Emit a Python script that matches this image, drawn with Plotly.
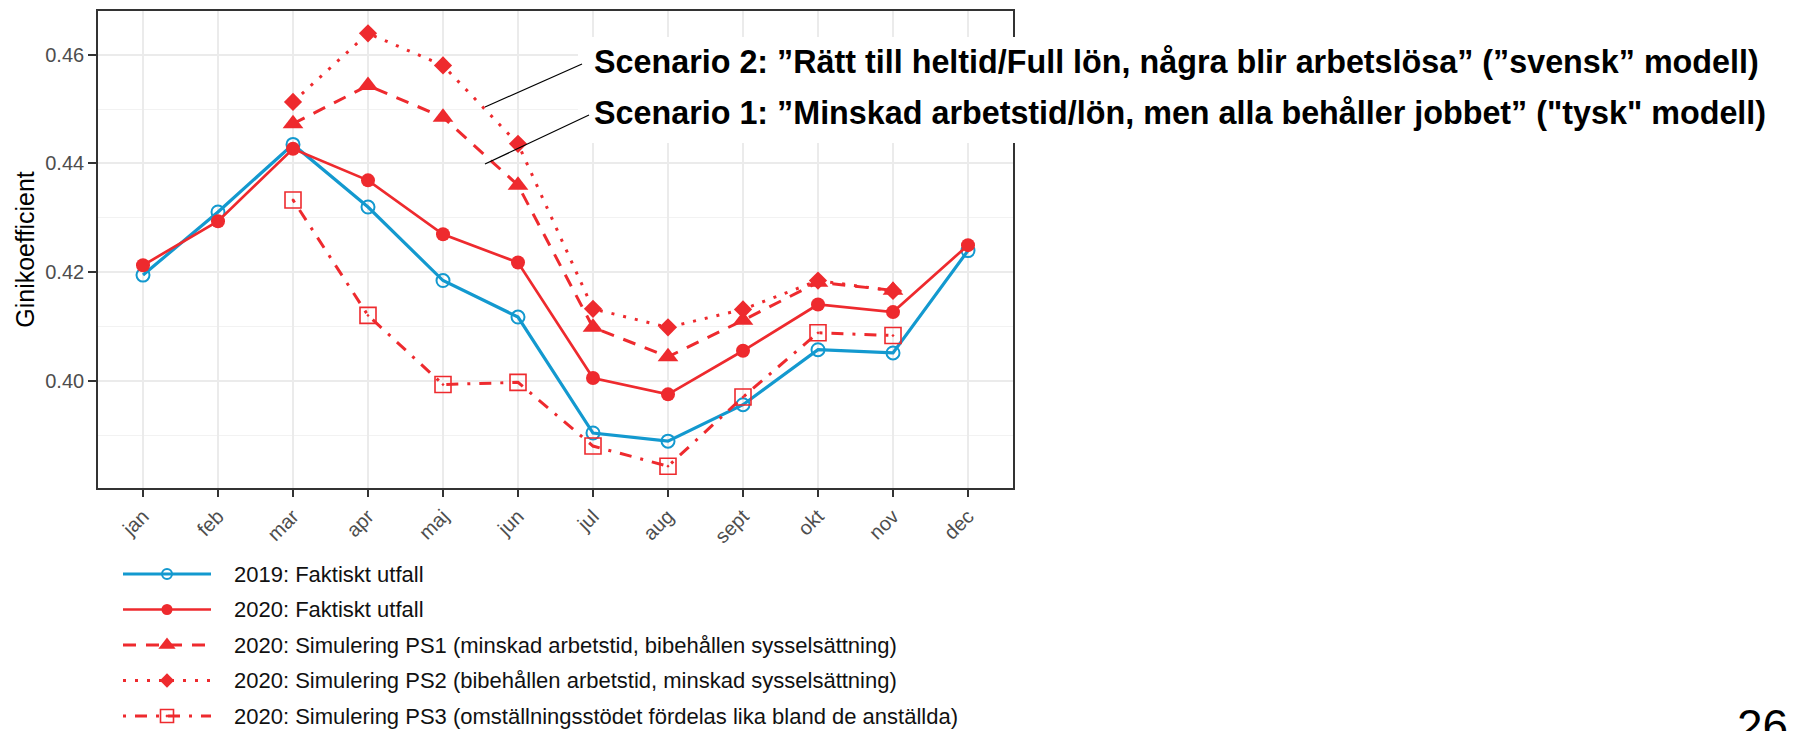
import plotly.graph_objects as go

# data
months = ["jan", "feb", "mar", "apr", "maj", "jun", "jul", "aug", "sept", "okt", "nov", "dec"]
sim_months = months[2:11]

gini_2019 = [0.4195, 0.4311, 0.4435, 0.4320, 0.4185, 0.4118, 0.3905, 0.3890, 0.3957, 0.4058, 0.4052, 0.4240]
gini_2020 = [0.4213, 0.4294, 0.4427, 0.4369, 0.4270, 0.4218, 0.4006, 0.3976, 0.4056, 0.4141, 0.4127, 0.4250]
gini_ps1 = [0.4473, 0.4543, 0.4485, 0.4360, 0.4099, 0.4045, 0.4112, 0.4182, 0.4167]
gini_ps2 = [0.4513, 0.4639, 0.4580, 0.4436, 0.4133, 0.4099, 0.4132, 0.4185, 0.4166]
gini_ps3 = [0.4333, 0.4121, 0.3994, 0.3998, 0.3881, 0.3844, 0.3971, 0.4089, 0.4084]

labels = [
    "2019: Faktiskt utfall",
    "2020: Faktiskt utfall",
    "2020: Simulering PS1 (minskad arbetstid, bibehållen sysselsättning)",
    "2020: Simulering PS2 (bibehållen arbetstid, minskad sysselsättning)",
    "2020: Simulering PS3 (omställningsstödet fördelas lika bland de anställda)",
]
scenario_texts = [
    "Scenario 2: ”Rätt till heltid/Full lön, några blir arbetslösa” (”svensk” modell)",
    "Scenario 1: ”Minskad arbetstid/lön, men alla behåller jobbet” (\"tysk\" modell)",
]

BLUE = "#1399CF"
RED = "#EE2A2E"
W, H = 1799, 731
ML, MR, MT = 98, 786, 11


def px(x):
    return (x - ML) / (W - ML - MR)


def py(y):
    return (H - y) / (H - MT)


styles = [
    dict(x=months, y=gini_2019, color=BLUE, width=3.2, dash="solid",
         symbol="circle-open", size=13, mline=2),
    dict(x=months, y=gini_2020, color=RED, width=2.7, dash="solid",
         symbol="circle", size=14, mline=0),
    dict(x=sim_months, y=gini_ps1, color=RED, width=3, dash="13px,10px",
         symbol="triangle-up", size=18, mline=0),
    dict(x=sim_months, y=gini_ps2, color=RED, width=3, dash="3px,9px",
         symbol="diamond", size=14, mline=0),
    dict(x=sim_months, y=gini_ps3, color=RED, width=3, dash="3px,9px,12px,9px",
         symbol="square-open-dot", size=16, mline=1.6),
]

fig = go.Figure()

for s, name in zip(styles, labels):
    fig.add_trace(go.Scatter(
        x=s["x"], y=s["y"], name=name, mode="lines+markers",
        line=dict(color=s["color"], width=s["width"], dash=s["dash"]),
        marker=dict(symbol=s["symbol"], size=s["size"], color=s["color"],
                    line=dict(color=s["color"], width=s["mline"])),
        showlegend=False,
    ))

# hand-made legend below the plot (long key lines like ggplot)
for i, s in enumerate(styles):
    fig.add_trace(go.Scatter(
        x=[0, 1], y=[-i, -i], xaxis="x2", yaxis="y2", mode="lines",
        line=dict(color=s["color"], width=s["width"], dash=s["dash"]),
        showlegend=False, hoverinfo="skip",
    ))
    fig.add_trace(go.Scatter(
        x=[0.5], y=[-i], xaxis="x2", yaxis="y2", mode="markers",
        marker=dict(symbol=s["symbol"], size=s["size"] - 3, color=s["color"],
                    line=dict(color=s["color"], width=s["mline"])),
        showlegend=False, hoverinfo="skip",
    ))

annotations = []
for i, name in enumerate(labels):
    annotations.append(dict(
        text=name, x=px(232), xref="paper", y=-i, yref="y2",
        xanchor="left", yanchor="middle", showarrow=False,
        font=dict(size=22, color="#111111"),
    ))

for text, yc in zip(scenario_texts, [62, 113]):
    annotations.append(dict(
        text="<b>%s</b>" % text, x=px(592), xref="paper", y=py(yc), yref="paper",
        xanchor="left", yanchor="middle", showarrow=False,
        font=dict(size=32.3, color="black", family="Liberation Sans, Arial, sans-serif"),
    ))

annotations.append(dict(
    text="26", x=px(1790), xref="paper", y=py(698), yref="paper",
    xanchor="right", yanchor="top", showarrow=False,
    font=dict(size=46, color="black"),
))

shapes = [
    dict(type="rect", xref="paper", yref="paper", x0=px(578), x1=px(1775),
         y0=py(143), y1=py(37), fillcolor="white", line=dict(width=0), layer="above"),
    dict(type="line", xref="paper", yref="paper", x0=px(485), y0=py(107),
         x1=px(582), y1=py(64), line=dict(color="black", width=1.2)),
    dict(type="line", xref="paper", yref="paper", x0=px(485), y0=py(164),
         x1=px(589), y1=py(115), line=dict(color="black", width=1.2)),
]

# legend rows sit at y = row0 + row_gap*i (pixels)
row0, row_gap, leg_top = 574, 35.5, 555
y2_lo = -(H - row0) / row_gap
y2_hi = (row0 - leg_top) / row_gap

fig.update_layout(
    width=W, height=H,
    margin=dict(l=ML, r=MR, t=MT, b=0),
    paper_bgcolor="white", plot_bgcolor="white",
    font=dict(family="Liberation Sans, Arial, sans-serif", color="#4D4D4D"),
    xaxis=dict(
        type="category", categoryorder="array", categoryarray=months,
        range=[-0.6, 11.6], domain=[0, 1],
        showgrid=True, gridcolor="#EBEBEB", gridwidth=1.6,
        ticks="outside", ticklen=7, tickwidth=1.5, tickcolor="#333333",
        tickangle=-45, tickfont=dict(size=20, color="#4D4D4D"),
        showline=True, mirror=True, linecolor="#333333", linewidth=1.6,
        zeroline=False, anchor="y",
    ),
    yaxis=dict(
        range=[0.3804, 0.4680], domain=[py(488), 1],
        tickvals=[0.40, 0.42, 0.44, 0.46], tickformat=".2f",
        showgrid=True, gridcolor="#EBEBEB", gridwidth=1.6,
        minor=dict(tickvals=[0.39, 0.41, 0.43, 0.45], showgrid=True,
                   gridcolor="#F2F2F2", gridwidth=1, ticks=""),
        ticks="outside", ticklen=8, tickwidth=1.5, tickcolor="#333333",
        tickfont=dict(size=20, color="#4D4D4D"),
        showline=True, mirror=True, linecolor="#333333", linewidth=1.6,
        zeroline=False, anchor="x",
        title=dict(text="Ginikoefficient", font=dict(size=25, color="black"), standoff=4),
    ),
    xaxis2=dict(domain=[px(123), px(211)], range=[0, 1], visible=False,
                anchor="y2", fixedrange=True),
    yaxis2=dict(domain=[0, py(leg_top)], range=[y2_lo, y2_hi], visible=False,
                anchor="x2", fixedrange=True),
    annotations=annotations,
    shapes=shapes,
    showlegend=False,
)

fig.write_html("out.html", config={"displayModeBar": False},
               post_script="document.body.style.margin='0';")
